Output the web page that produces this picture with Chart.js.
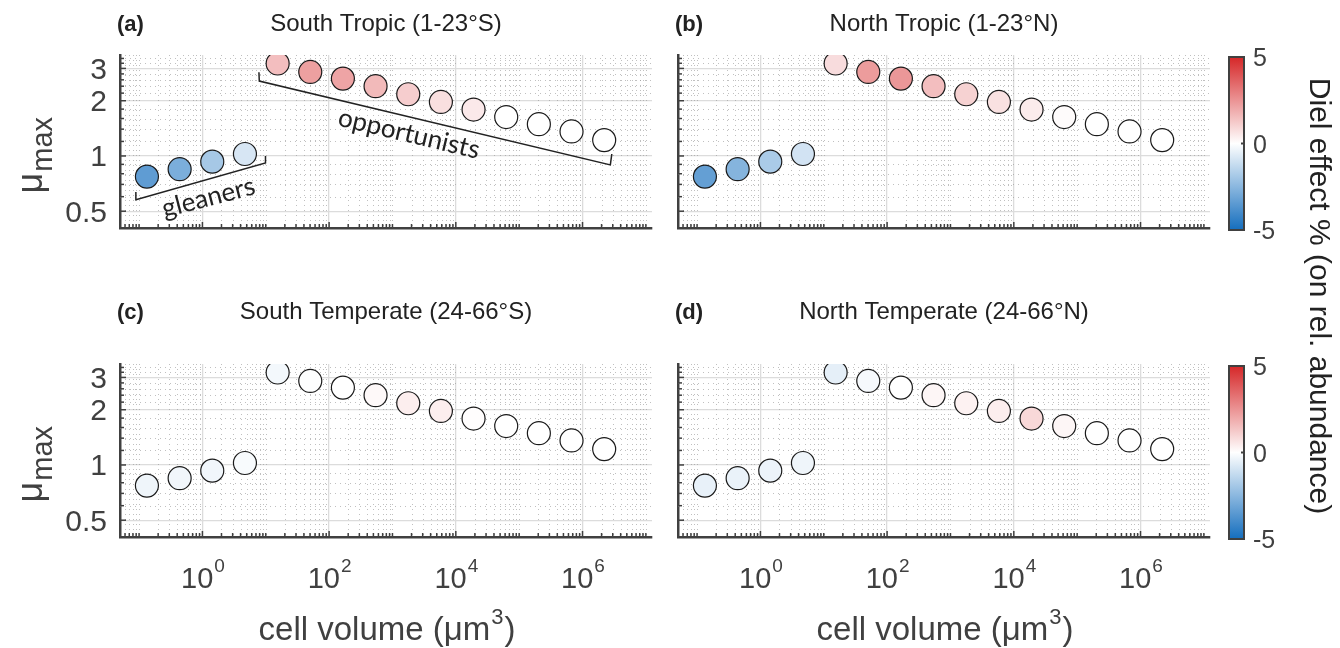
<!DOCTYPE html>
<html>
<head>
<meta charset="utf-8">
<script src="https://cdn.jsdelivr.net/npm/chart.js@4.4.0/dist/chart.umd.min.js"></script>
<style>
  html, body { margin: 0; padding: 0; background: #fff; }
  #wrap { position: relative; width: 1340px; height: 648px; }
  #wrap canvas { position: absolute; left: 0; top: 0; }
</style>
</head>
<body>
<div id="wrap">
  <canvas id="pa" width="1340" height="648"></canvas>
  <canvas id="pb" width="1340" height="648"></canvas>
  <canvas id="pc" width="1340" height="648"></canvas>
  <canvas id="pd" width="1340" height="648"></canvas>
  <canvas id="cb1" width="1340" height="648"></canvas>
  <canvas id="cb2" width="1340" height="648"></canvas>
</div>
<script>
// size classes: cell volume (um^3) and max growth rate
const cellVolume = [0.133, 0.437, 1.43, 4.69, 15.4, 50.4, 165, 541, 1774, 5814, 19055, 62450, 204640, 670800, 2198000];
const muMax = [0.772, 0.847, 0.931, 1.025, 3.19, 2.87, 2.64, 2.40, 2.17, 1.97, 1.79, 1.63, 1.49, 1.36, 1.22];

// diel effect % (on rel. abundance) per region
const dielSouthTropic = [-3.4, -2.8, -1.9, -0.85, 1.5, 2.2, 2.1, 1.6, 1.15, 0.75, 0.5, 0, 0, 0, 0];
const dielNorthTropic = [-3.3, -2.6, -1.8, -0.95, 0.8, 2.3, 2.4, 1.5, 1.05, 0.7, 0.45, 0.1, 0, 0, 0];
const dielSouthTemperate = [-0.35, -0.3, -0.3, -0.15, -0.25, -0.05, 0, 0.15, 0.4, 0.4, 0.05, 0, 0, 0, 0];
const dielNorthTemperate = [-0.5, -0.45, -0.4, -0.35, -0.55, -0.2, 0, 0.2, 0.3, 0.4, 0.9, 0.2, 0, 0, 0];

// axes
const xTicks = [1, 100, 1e4, 1e6];
const xTickExp = ['0', '2', '4', '6'];
const yTicks = [0.5, 1, 2, 3];
const yTickLabels = ['0.5', '1', '2', '3'];
const yMinor = [0.4, 0.6, 0.7, 0.8, 0.9, 1.2, 1.4, 1.6, 1.8, 2.2, 2.4, 2.6, 2.8, 3.2, 3.4];
const cbTicks = [-5, 0, 5];
const cbTickLabels = ['-5', '0', '5'];

// annotation in panel (a), in data units
const gleanerBracket = [[0.089, 0.637], [0.089, 0.577], [9.9, 0.916], [9.9, 1.0]];
const opportunistBracket = [[7.8, 2.86], [7.9, 2.56], [2.75e6, 0.894], [2.9e6, 1.025]];
const groupLabels = [
  { text: 'gleaners', x: 1.35, y: 0.585, angle: -14.5 },
  { text: 'opportunists', x: 1700, y: 1.30, angle: 13.4 }
];

const X_MIN = 0.05, X_MAX = 1.25e7, Y_MIN = 0.405, Y_MAX = 3.55;
const PW = 532, PH = 173;
const AX = '#404040';
const SANS = '"Liberation Sans", Arial, sans-serif';

// minor x ticks: 1..9 x 10^k
const xMinor = [];
for (let k = -2; k <= 7; k++) {
  for (let m = 1; m <= 9; m++) {
    const v = m * Math.pow(10, k);
    if (m === 1 && k % 2 === 0 && k >= 0 && k <= 6) continue;
    if (v >= X_MIN && v <= X_MAX) xMinor.push(v);
  }
}

function dielColor(v) {
  const t = Math.max(-1, Math.min(1, v / 5));
  const end = t >= 0 ? [214, 39, 40] : [20, 110, 190];
  const a = Math.abs(t);
  const c = end.map(e => Math.round(255 + (e - 255) * a));
  return 'rgb(' + c.join(',') + ')';
}

function txt(ctx, s, x, y, font, color, align, angle) {
  ctx.save();
  ctx.translate(x, y);
  if (angle) ctx.rotate(angle * Math.PI / 180);
  ctx.font = font;
  ctx.fillStyle = color;
  ctx.textAlign = align || 'left';
  ctx.textBaseline = 'alphabetic';
  ctx.fillText(s, 0, 0);
  ctx.restore();
}

function seg(ctx, x1, y1, x2, y2) {
  ctx.beginPath();
  ctx.moveTo(x1, y1);
  ctx.lineTo(x2, y2);
  ctx.stroke();
}

const panels = [
  { id: 'pa', letter: '(a)', title: 'South Tropic (1-23°S)', diel: dielSouthTropic, left: 120, top: 55, titleY: 31, yLabels: true, xLabels: false, notes: true },
  { id: 'pb', letter: '(b)', title: 'North Tropic (1-23°N)', diel: dielNorthTropic, left: 678, top: 55, titleY: 31, yLabels: false, xLabels: false },
  { id: 'pc', letter: '(c)', title: 'South Temperate (24-66°S)', diel: dielSouthTemperate, left: 120, top: 364, titleY: 319, yLabels: true, xLabels: true },
  { id: 'pd', letter: '(d)', title: 'North Temperate (24-66°N)', diel: dielNorthTemperate, left: 678, top: 364, titleY: 319, yLabels: false, xLabels: true }
];

function panelPlugin(p) {
  return {
    id: 'deco',
    beforeDatasetsDraw(chart) {
      const { ctx, chartArea: a, scales: { x, y } } = chart;
      ctx.save();
      ctx.strokeStyle = 'rgba(150,150,150,0.6)';
      ctx.lineWidth = 1;
      ctx.setLineDash([1, 4]);
      xMinor.forEach(v => {
        const px = Math.round(x.getPixelForValue(v)) + 0.5;
        if (px > a.left + 2 && px < a.right) seg(ctx, px, a.top, px, a.bottom);
      });
      yMinor.forEach(v => {
        const py = Math.round(y.getPixelForValue(v)) + 0.5;
        if (py > a.top && py < a.bottom - 2) seg(ctx, a.left, py, a.right, py);
      });
      ctx.restore();
    },
    afterDraw(chart) {
      const { ctx, chartArea: a, scales: { x, y } } = chart;
      ctx.save();
      // inward tick marks
      ctx.strokeStyle = AX;
      ctx.lineWidth = 1.5;
      xTicks.forEach(v => { const px = x.getPixelForValue(v); seg(ctx, px, a.bottom, px, a.bottom - 6); });
      xMinor.forEach(v => { const px = x.getPixelForValue(v); if (px > a.left + 2) seg(ctx, px, a.bottom, px, a.bottom - 4); });
      yTicks.forEach(v => { const py = y.getPixelForValue(v); seg(ctx, a.left, py, a.left + 6, py); });
      yMinor.forEach(v => { const py = y.getPixelForValue(v); if (py < a.bottom - 2) seg(ctx, a.left, py, a.left + 4, py); });

      // titles
      txt(ctx, p.letter, a.left - 3, p.titleY, 'bold 22px ' + SANS, '#222', 'left');
      txt(ctx, p.title, (a.left + a.right) / 2, p.titleY, '24px ' + SANS, '#222', 'center');

      if (p.yLabels) {
        yTicks.forEach((v, i) => {
          txt(ctx, yTickLabels[i], a.left - 13, y.getPixelForValue(v) + 10.5, '30px ' + SANS, AX, 'right');
        });
        // y axis title: mu with subscript max
        ctx.save();
        ctx.translate(42, (a.top + a.bottom) / 2 + 52);
        ctx.rotate(-Math.PI / 2);
        ctx.fillStyle = AX;
        ctx.font = '36px ' + SANS;
        ctx.textAlign = 'left';
        ctx.fillText('μ', 0, 0);
        const w = ctx.measureText('μ').width;
        ctx.font = '29px ' + SANS;
        ctx.fillText('max', w + 1, 10);
        ctx.restore();
      }

      if (p.xLabels) {
        xTicks.forEach((v, i) => {
          const px = x.getPixelForValue(v);
          ctx.font = '29px ' + SANS;
          const w1 = ctx.measureText('10').width;
          ctx.font = '19px ' + SANS;
          const w2 = ctx.measureText(xTickExp[i]).width;
          const x0 = px - (w1 + w2) / 2;
          txt(ctx, '10', x0, a.bottom + 51, '29px ' + SANS, AX, 'left');
          txt(ctx, xTickExp[i], x0 + w1 + 1, a.bottom + 35, '19px ' + SANS, AX, 'left');
        });
        // x axis title with superscript 3
        ctx.font = '33px ' + SANS;
        const s1 = 'cell volume (μm';
        const w1 = ctx.measureText(s1).width;
        const w3 = ctx.measureText(')').width;
        ctx.font = '22px ' + SANS;
        const w2 = ctx.measureText('3').width;
        const x0 = (a.left + a.right) / 2 - (w1 + w2 + w3) / 2;
        txt(ctx, s1, x0, a.bottom + 103, '33px ' + SANS, AX, 'left');
        txt(ctx, '3', x0 + w1 + 1, a.bottom + 87, '22px ' + SANS, AX, 'left');
        txt(ctx, ')', x0 + w1 + w2 + 2, a.bottom + 103, '33px ' + SANS, AX, 'left');
      }

      if (p.notes) {
        ctx.strokeStyle = '#222';
        ctx.lineWidth = 1.5;
        [gleanerBracket, opportunistBracket].forEach(br => {
          ctx.beginPath();
          br.forEach((pt, i) => {
            const px = x.getPixelForValue(pt[0]), py = y.getPixelForValue(pt[1]);
            if (i === 0) ctx.moveTo(px, py); else ctx.lineTo(px, py);
          });
          ctx.stroke();
        });
        groupLabels.forEach(g => {
          txt(ctx, g.text, x.getPixelForValue(g.x), y.getPixelForValue(g.y) + 7, '26px Lato, "Open Sans", sans-serif', '#222', 'center', g.angle);
        });
      }
      ctx.restore();
    }
  };
}

panels.forEach(p => {
  new Chart(document.getElementById(p.id), {
    type: 'scatter',
    data: {
      datasets: [{
        data: cellVolume.map((v, i) => ({ x: v, y: muMax[i] })),
        backgroundColor: p.diel.map(dielColor),
        borderColor: '#1a1a1a',
        borderWidth: 1.2,
        pointRadius: 11.5,
        pointHoverRadius: 11.5
      }]
    },
    options: {
      responsive: false,
      animation: false,
      devicePixelRatio: 1,
      events: [],
      layout: { padding: { left: p.left, top: p.top, right: 1340 - p.left - PW, bottom: 648 - p.top - PH } },
      plugins: { legend: { display: false }, tooltip: { enabled: false } },
      scales: {
        x: {
          type: 'logarithmic', min: X_MIN, max: X_MAX,
          afterBuildTicks: s => { s.ticks = xTicks.map(v => ({ value: v })); },
          ticks: { display: false },
          grid: { color: '#dcdcdc', lineWidth: 1.3, drawTicks: false },
          border: { color: AX, width: 2.5 }
        },
        y: {
          type: 'logarithmic', min: Y_MIN, max: Y_MAX,
          afterBuildTicks: s => { s.ticks = yTicks.map(v => ({ value: v })); },
          ticks: { display: false },
          grid: { color: '#dcdcdc', lineWidth: 1.3, drawTicks: false },
          border: { color: AX, width: 2.5 }
        }
      }
    },
    plugins: [panelPlugin(p)]
  });
});

function cbGradient(chart) {
  const { ctx, chartArea, scales } = chart;
  if (!chartArea) return '#fff';
  const y = scales.y;
  const g = ctx.createLinearGradient(0, y.getPixelForValue(cbTicks[0]), 0, y.getPixelForValue(cbTicks[2]));
  [-5, -3.75, -2.5, -1.25, 0, 1.25, 2.5, 3.75, 5].forEach(v => g.addColorStop((v + 5) / 10, dielColor(v)));
  return g;
}

function colorbar(id, top, withLabel) {
  new Chart(document.getElementById(id), {
    type: 'bar',
    data: {
      labels: [''],
      datasets: [{
        data: [[cbTicks[0], cbTicks[2]]],
        backgroundColor: c => cbGradient(c.chart),
        borderWidth: 0,
        barPercentage: 1,
        categoryPercentage: 1
      }]
    },
    options: {
      responsive: false,
      animation: false,
      devicePixelRatio: 1,
      events: [],
      layout: { padding: { left: 1229, right: 1340 - 1229 - 15, top: top, bottom: 648 - top - PH } },
      plugins: { legend: { display: false }, tooltip: { enabled: false } },
      scales: {
        x: { display: false },
        y: { display: false, min: cbTicks[0], max: cbTicks[2] }
      }
    },
    plugins: [{
      id: 'cbdeco',
      afterDraw(chart) {
        const { ctx, chartArea: a, scales: { y } } = chart;
        ctx.save();
        ctx.strokeStyle = AX;
        ctx.lineWidth = 2;
        ctx.strokeRect(a.left, a.top, a.right - a.left, a.bottom - a.top);
        cbTicks.forEach((v, i) => {
          const py = y.getPixelForValue(v);
          seg(ctx, a.right, py, a.right - 3, py);
          txt(ctx, cbTickLabels[i], a.right + 9, py + 9, '25px ' + SANS, AX, 'left');
        });
        if (withLabel) {
          txt(ctx, 'Diel effect % (on rel. abundance)', 1310, 296, '30px ' + SANS, '#222', 'center', 90);
        }
        ctx.restore();
      }
    }]
  });
}

colorbar('cb1', 57, true);
colorbar('cb2', 366, false);
</script>
</body>
</html>
